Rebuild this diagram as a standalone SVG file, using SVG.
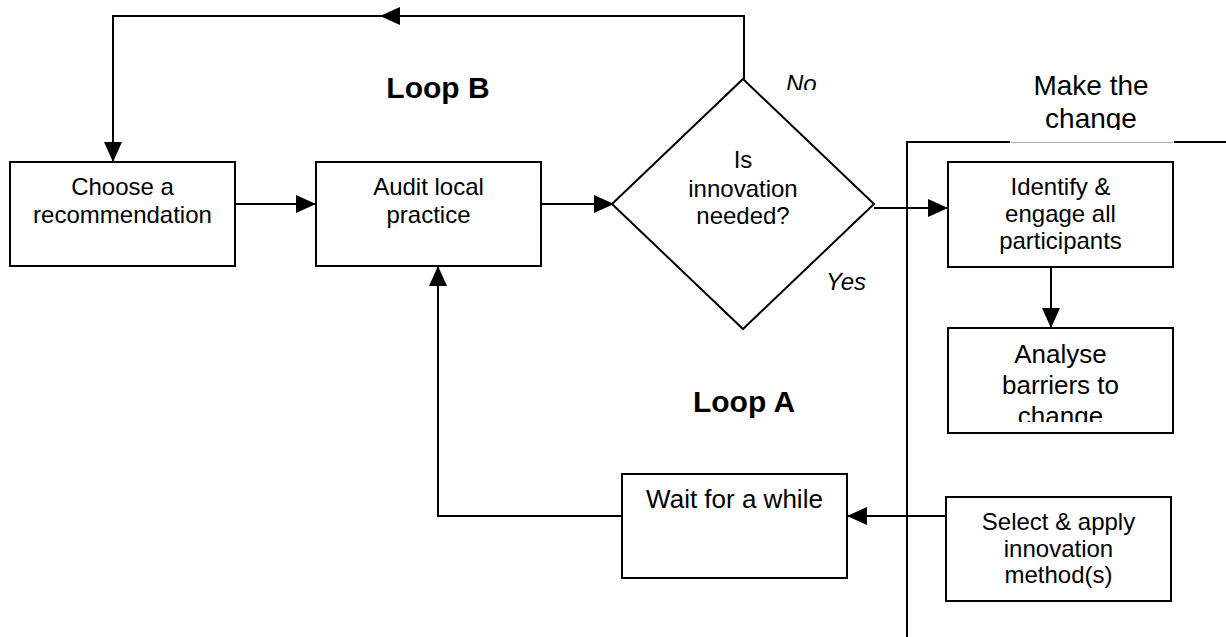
<svg xmlns="http://www.w3.org/2000/svg" width="1226" height="637" viewBox="0 0 1226 637">
  <style>
    .box { fill: #fff; stroke: #000; stroke-width: 2; }
    .wire { fill: none; stroke: #000; stroke-width: 2; }
    text { font-family: "Liberation Sans", Arial, sans-serif; fill: #000; }
    .t24 { font-size: 24px; text-anchor: middle; }
    .t26 { font-size: 26px; text-anchor: middle; }
    .loop { font-size: 30px; font-weight: bold; text-anchor: middle; }
    .ans { font-size: 24px; font-style: italic; }
    .title { font-size: 28px; text-anchor: middle; }
  </style>
  <defs>
    <marker id="arrow" markerUnits="userSpaceOnUse" markerWidth="20" markerHeight="18" refX="20" refY="9" orient="auto">
      <path d="M0,0 L20,9 L0,18 z" fill="#000"/>
    </marker>
    <clipPath id="clipNo"><rect x="770" y="60" width="80" height="30"/></clipPath>
    <clipPath id="clipTitle"><rect x="1010" y="60" width="164" height="70"/></clipPath>
    <clipPath id="clipAnalyse"><rect x="948" y="328" width="225" height="94"/></clipPath>
  </defs>
  <rect width="1226" height="637" fill="#fff"/>

  <!-- "Make the change" frame -->
  <g id="make-change">
    <path class="wire" d="M907,637 V142 H1010 M1174,142 H1226"/>
    <line x1="1010" y1="142.5" x2="1174" y2="142.5" stroke="#aaa" stroke-width="1"/>
    <g clip-path="url(#clipTitle)">
      <text class="title" x="1091" y="95">Make the</text>
      <text class="title" x="1091" y="128">change</text>
    </g>
  </g>

  <!-- connectors -->
  <g id="connectors">
    <path class="wire" d="M744,79 V16 H380" marker-end="url(#arrow)"/>
    <path class="wire" d="M382,16 H113 V162" marker-end="url(#arrow)"/>
    <path class="wire" d="M235,204 H316" marker-end="url(#arrow)"/>
    <path class="wire" d="M541,204 H614" marker-end="url(#arrow)"/>
    <path class="wire" d="M874,208 H948" marker-end="url(#arrow)"/>
    <path class="wire" d="M1051,267 V328" marker-end="url(#arrow)"/>
    <path class="wire" d="M946,516 H847" marker-end="url(#arrow)"/>
    <path class="wire" d="M622,516 H438 V266" marker-end="url(#arrow)"/>
  </g>

  <g id="choose">
    <rect class="box" x="10" y="162" width="225" height="104"/>
    <text class="t24" x="122.5" y="195">Choose a</text>
    <text class="t24" x="122.5" y="223">recommendation</text>
  </g>

  <g id="audit">
    <rect class="box" x="316" y="162" width="225" height="104"/>
    <text class="t24" x="428.5" y="195">Audit local</text>
    <text class="t24" x="428.5" y="223">practice</text>
  </g>

  <g id="decision">
    <polygon class="box" points="743,79 874,204 743,329 612,204"/>
    <text class="t24" x="743" y="168">Is</text>
    <text class="t24" x="743" y="197">innovation</text>
    <text class="t24" x="743" y="224">needed?</text>
  </g>

  <g id="identify">
    <rect class="box" x="948" y="162" width="225" height="105"/>
    <text class="t24" x="1060.5" y="195">Identify &amp;</text>
    <text class="t24" x="1060.5" y="222">engage all</text>
    <text class="t24" x="1060.5" y="249">participants</text>
  </g>

  <g id="analyse">
    <rect class="box" x="948" y="328" width="225" height="105"/>
    <g clip-path="url(#clipAnalyse)">
      <text class="t26" x="1060.5" y="363">Analyse</text>
      <text class="t26" x="1060.5" y="394">barriers to</text>
      <text class="t26" x="1060.5" y="425">change</text>
    </g>
  </g>

  <g id="select">
    <rect class="box" x="946" y="497" width="225" height="104"/>
    <text class="t24" x="1058.5" y="530">Select &amp; apply</text>
    <text class="t24" x="1058.5" y="557">innovation</text>
    <text class="t24" x="1058.5" y="583">method(s)</text>
  </g>

  <g id="wait">
    <rect class="box" x="622" y="474" width="225" height="104"/>
    <text class="t26" x="734.5" y="508">Wait for a while</text>
  </g>

  <!-- loop and branch labels -->
  <g id="labels">
    <text class="loop" x="438" y="98">Loop B</text>
    <text class="loop" x="744" y="412">Loop A</text>
    <g clip-path="url(#clipNo)">
      <text class="ans" x="786" y="92">No</text>
    </g>
    <text class="ans" x="826" y="290">Yes</text>
  </g>
</svg>
